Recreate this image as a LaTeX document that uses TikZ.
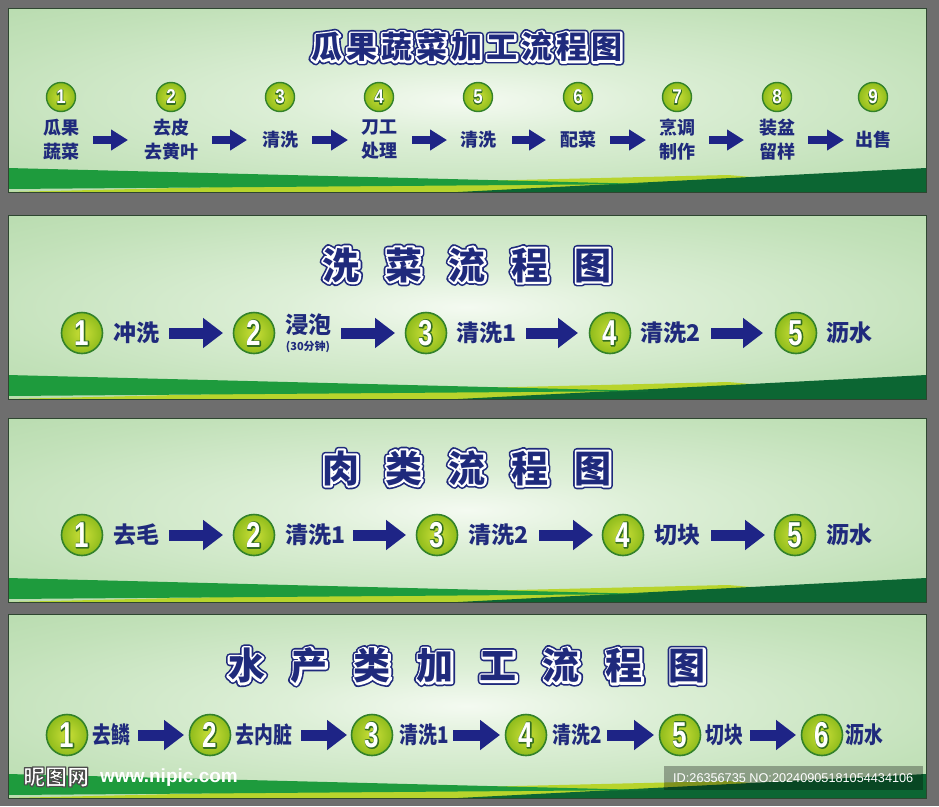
\documentclass[tikz,border=0pt]{standalone}
\usepackage{fontspec}
\usepackage{graphicx}
\usetikzlibrary{calc,arrows.meta}
\newfontfamily\cjk{Noto Sans CJK SC}
\newfontfamily\numfont{Liberation Sans}
\newfontfamily\wmfont{Liberation Sans}
\definecolor{bggray}{HTML}{6E6E6E}
\definecolor{navy}{HTML}{1F2A7C}
\definecolor{arrownavy}{HTML}{1E2486}
\definecolor{pg0}{HTML}{F4FAF1}
\definecolor{pg1}{HTML}{DDEFD7}
\definecolor{pg2}{HTML}{C2E1B9}
\definecolor{pg3}{HTML}{A9D39F}
\definecolor{bgreen}{HTML}{1E9B3D}
\definecolor{dgreen}{HTML}{0C6633}
\definecolor{ygreen}{HTML}{B8D42C}
\definecolor{cin}{HTML}{CBDF38}
\definecolor{cout}{HTML}{8FBC1C}
\definecolor{cborder}{HTML}{33822A}
\definecolor{pborder}{HTML}{2E4630}
\pgfdeclareradialshading{panelglow}{\pgfpoint{0bp}{0bp}}{color(0bp)=(pg0); color(10bp)=(pg1); color(28bp)=(pg2); color(50bp)=(pg3); color(75bp)=(pg3)}
% text drawn with fill and a stroke of given width (bp) and stroke colour (rgb)
\newcommand\trmode[3]{\special{pdf:literal direct 2 Tr #1 w 1 j #2 RG}#3\special{pdf:literal direct 0 Tr}}
% outline behind the glyph: stroke-only copy, then plain fill on top
\newcommand\outback[3]{\rlap{\special{pdf:literal direct 1 Tr #1 w 1 j #2 RG}#3\special{pdf:literal direct 0 Tr}}#3}
\newcommand\cnumA[1]{{\color{white}\numfont\bfseries\fontsize{20}{20}\selectfont\scalebox{0.85}[1]{\outback{1.8}{0.2 0.43 0.13}{#1}}}}
\newcommand\cnumB[1]{{\color{white}\numfont\bfseries\fontsize{36}{36}\selectfont\scalebox{0.72}[1]{\outback{2.4}{0.2 0.43 0.13}{#1}}}}
\newcommand\ptitle[3]{%
 \node[ttl,text=navy] at #2 {\trmode{7.5}{0.122 0.165 0.486}{#3}};
 \node[ttl,text=white] at #2 {\trmode{4.2}{1 1 1}{#3}};
 \node[ttl,text=navy] (#1) at #2 {#3};}
\newcommand\drawpanel[1]{%
 \begin{scope}[shift={(8,#1)}]
  \shade[shading=panelglow] (0,0) rectangle (918,184);
  \fill[ygreen] (0,184) -- (720,167) -- (918,184) -- cycle;
  \fill[dgreen] (450,184) -- (918,160) -- (918,184) -- cycle;
  \fill[bgreen] (0,160) -- (640,176) -- (0,181) -- cycle;
  \draw[pborder, line width=0.8pt] (0,0) rectangle (918,184);
 \end{scope}}
\tikzset{
 ttl/.style={inner sep=0pt, anchor=center},
 lblA/.style={font=\cjk\bfseries\fontsize{18}{24}\selectfont, text=navy, align=center, inner sep=0pt},
 lblB/.style={font=\cjk\bfseries\fontsize{23}{26}\selectfont, text=navy, inner sep=0pt},
 circA/.style={circle, minimum size=29pt, inner sep=0pt, draw=cborder, line width=1.4pt, inner color=cin, outer color=cout},
 circB/.style={circle, minimum size=41pt, inner sep=0pt, draw=cborder, line width=1.6pt, inner color=cin, outer color=cout},
 arrA/.style={draw=arrownavy, line width=8pt, -{Triangle[width=20pt,length=17pt]}},
 arrB/.style={draw=arrownavy, line width=11pt, -{Triangle[width=29pt,length=20pt]}},
}
\begin{document}
\begin{tikzpicture}[x=1pt,y=-1pt]
\useasboundingbox (0,0) rectangle (939,806);
\fill[bggray] (0,0) rectangle (939,806);
\drawpanel{8}
\drawpanel{215}
\drawpanel{418}
\drawpanel{614}
% ---------- panel 1
\ptitle{t1}{(467,47)}{\cjk\bfseries\fontsize{31}{31}\selectfont 瓜\kern4pt果\kern4pt蔬\kern4pt菜\kern4pt加\kern4pt工\kern4pt流\kern4pt程\kern4pt图}
\foreach \n/\x/\t in {1/61/{瓜果\\蔬菜},2/171/{去皮\\去黄叶},3/280/{清洗},4/379/{刀工\\处理},5/478/{清洗},6/578/{配菜},7/677/{烹调\\制作},8/777/{装盆\\留样},9/873/{出售}}{
 \node[circA] (a\n) at (\x,97) {\cnumA{\n}};
 \node[lblA] (al\n) at (\x,140) {\t};
}
\foreach \i/\s/\e in {1/93/128,2/212/247,3/312/348,4/412/447,5/512/546,6/610/646,7/709/744,8/808/844}{
 \coordinate (as\i) at (\s,140);
 \coordinate (ae\i) at (\e,140);
 \draw[arrA] (as\i) -- (ae\i);
}
% ---------- panel 2
\ptitle{t2}{(467,265)}{\cjk\bfseries\fontsize{37}{37}\selectfont 洗\kern26pt菜\kern26pt流\kern26pt程\kern26pt图}
\foreach \n/\x in {1/82,2/254,3/426,4/610,5/796}{\node[circB] (b\n) at (\x,333) {\cnumB{\n}};}
\node[lblB] (bl1) at (136,333) {冲洗};
\node[lblB] (bl2) at (308,325) {浸泡};
\node[font=\cjk\bfseries\fontsize{11}{11}\selectfont, text=navy, inner sep=0pt] (bl2b) at (308,347) {(30分钟)};
\node[lblB] (bl3) at (486,333) {清洗1};
\node[lblB] (bl4) at (670,333) {清洗2};
\node[lblB] (bl5) at (849,333) {沥水};
\foreach \i/\s/\e in {1/169/223,2/341/395,3/526/578,4/711/763}{
 \coordinate (bs\i) at (\s,333);
 \coordinate (be\i) at (\e,333);
 \draw[arrB] (bs\i) -- (be\i);
}
% ---------- panel 3
\ptitle{t3}{(467,468)}{\cjk\bfseries\fontsize{37}{37}\selectfont 肉\kern26pt类\kern26pt流\kern26pt程\kern26pt图}
\foreach \n/\x in {1/82,2/254,3/437,4/623,5/795}{\node[circB] (c\n) at (\x,535) {\cnumB{\n}};}
\foreach \n/\x/\t in {1/136/去毛,2/315/清洗1,3/498/清洗2,4/677/切块,5/849/沥水}{\node[lblB] (cl\n) at (\x,535) {\t};}
\foreach \i/\s/\e in {1/169/223,2/353/406,3/539/593,4/711/765}{
 \coordinate (cs\i) at (\s,535);
 \coordinate (ce\i) at (\e,535);
 \draw[arrB] (cs\i) -- (ce\i);
}
% ---------- panel 4
\ptitle{t4}{(467,666)}{\cjk\bfseries\fontsize{37}{37}\selectfont 水\kern26pt产\kern26pt类\kern26pt加\kern26pt工\kern26pt流\kern26pt程\kern26pt图}
\foreach \n/\x in {1/67,2/210,3/372,4/526,5/680,6/822}{\node[circB] (d\n) at (\x,735) {\cnumB{\n}};}
\foreach \n/\x/\t in {1/111/去鳞,2/264/去内脏,3/424/清洗1,4/577/清洗2,5/724/切块,6/864/沥水}{\node[lblB] (dl\n) at (\x,735) {\scalebox{0.82}[1]{\t}};}
\foreach \i/\s/\e in {1/138/184,2/301/347,3/453/500,4/607/654,5/750/796}{
 \coordinate (ds\i) at (\s,735);
 \coordinate (de\i) at (\e,735);
 \draw[arrB] (ds\i) -- (de\i);
}
% ---------- watermark
\node[font=\cjk\bfseries\fontsize{22}{22}\selectfont, text=white, inner sep=0pt, anchor=west] (wm1) at (23,777) {\trmode{1.2}{0.3 0.3 0.3}{昵图网}};
\node[font=\wmfont\bfseries\fontsize{19}{19}\selectfont, text=white, inner sep=0pt, anchor=west] (wm2) at (100,778) {www.nipic.com};
\fill[black, opacity=0.3] (664,766) rectangle (923,790);
\node[font=\wmfont\fontsize{12.7}{13}\selectfont, text=white, inner sep=0pt, anchor=west] (wm3) at (673,778) {ID:26356735 NO:20240905181054434106};
\end{tikzpicture}
\end{document}
